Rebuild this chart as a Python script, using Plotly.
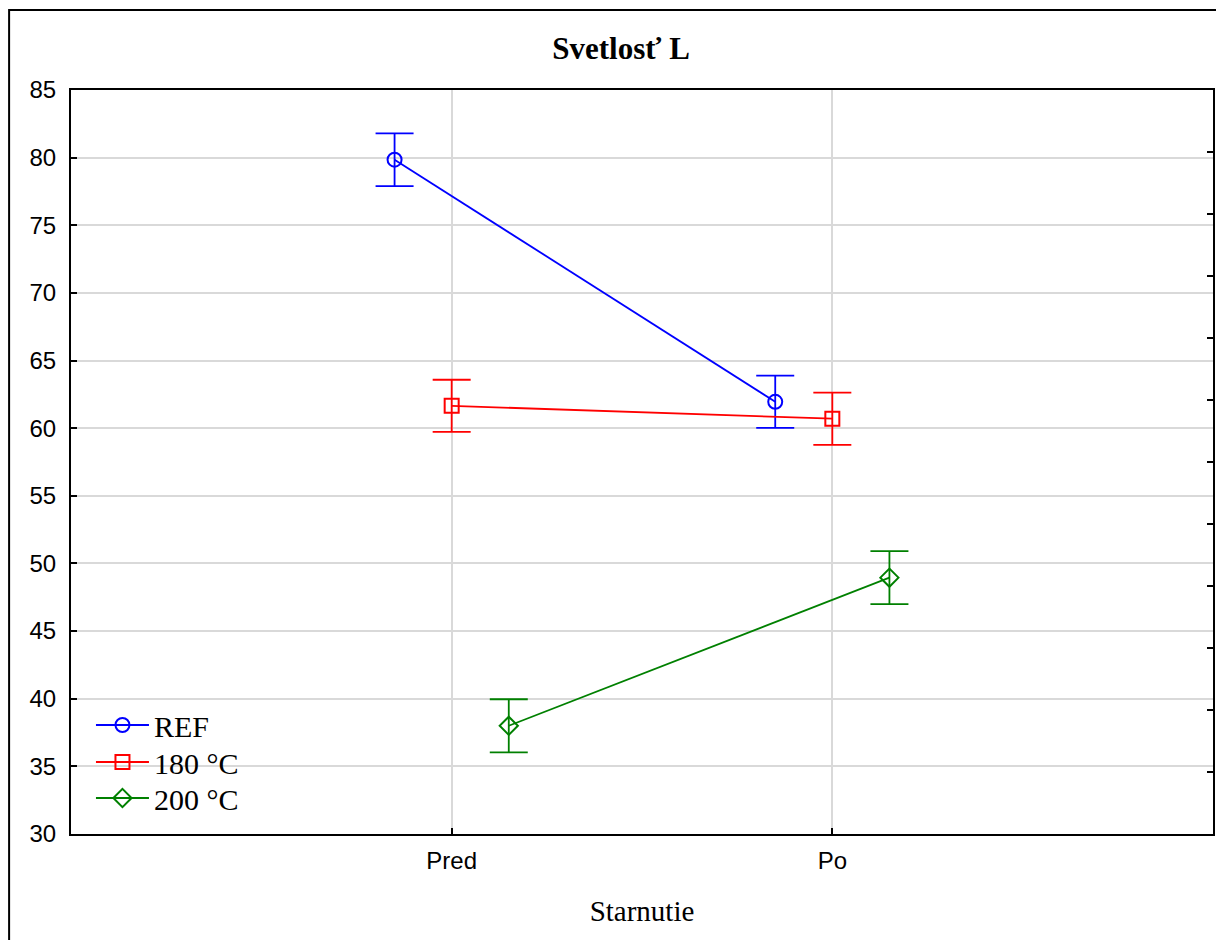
import plotly.graph_objects as go

# ---- data ----
categories = ["Pred", "Po"]
series_names = ["REF", "180 °C", "200 °C"]
ref_means = [79.85, 61.95]
ref_err = [1.95, 1.93]
t180_means = [61.65, 60.7]
t180_err = [1.93, 1.93]
t200_means = [38.0, 48.95]
t200_err = [1.96, 1.96]

# ---- styles ----
colors = ["#0000ff", "#ff0000", "#008000"]
symbols = ["circle-open", "square-open", "diamond-open"]
offsets = [-0.15, 0.0, 0.15]
cat_pos = [1, 2]
legend_ids = ["legend", "legend2", "legend3"]
legend_rows = [725, 762, 798]   # page-pixel centres of legend entries

means = [ref_means, t180_means, t200_means]
errs = [ref_err, t180_err, t200_err]

serif = "Liberation Serif, Times New Roman, serif"
sans = "Liberation Sans, Arial, sans-serif"

# page offset of the plot div (browser default body margin)
PAGE_OFF = 8
PLOT_L, PLOT_R, PLOT_T, PLOT_B = 71, 1215, 90, 834   # plot area in page pixels
PW = PLOT_R - PLOT_L
PH = PLOT_B - PLOT_T

def px(x):
    return (x - PLOT_L) / PW

def py(y):
    return (PLOT_B - y) / PH

fig = go.Figure()
for name, m, e, c, s, off, lg in zip(series_names, means, errs, colors, symbols, offsets, legend_ids):
    fig.add_trace(go.Scatter(
        x=[p + off for p in cat_pos], y=m, name=name, legend=lg,
        mode="lines+markers",
        line=dict(color=c, width=1.8),
        marker=dict(symbol=s, size=14, color=c, line=dict(color=c, width=2)),
        error_y=dict(type="data", array=e, visible=True, color=c, thickness=1.8, width=19),
    ))

# dummy trace for the right-hand axis
fig.add_trace(go.Scatter(x=[None], y=[None], yaxis="y2", showlegend=False, hoverinfo="skip"))

W = 1224 - PAGE_OFF
H = 940 - PAGE_OFF

legend_style = dict(xanchor="left", yanchor="middle", bgcolor="rgba(0,0,0,0)", borderwidth=0,
                    font=dict(family=serif, size=30, color="black"), itemwidth=53)
legends = {}
for lg, row in zip(legend_ids, legend_rows):
    legends[lg] = dict(x=px(91), y=py(row), **legend_style)

fig.update_layout(
    width=W, height=H,
    margin=dict(l=PLOT_L - PAGE_OFF, r=W - (PLOT_R - PAGE_OFF), t=PLOT_T - PAGE_OFF, b=H - (PLOT_B - PAGE_OFF)),
    paper_bgcolor="white", plot_bgcolor="white",
    title=dict(text="<b>Svetlosť L</b>", x=px(622), xref="paper", xanchor="center",
               y=1 - (48 - PAGE_OFF) / H, yanchor="middle",
               font=dict(family=serif, size=31, color="black")),
    xaxis=dict(range=[0, 3], tickvals=cat_pos, ticktext=categories,
               showgrid=True, gridcolor="#d9d9d9", gridwidth=1.5,
               showline=True, linecolor="black", linewidth=2, mirror=True,
               ticks="inside", ticklen=6, tickcolor="black", tickwidth=1.5,
               zeroline=False, ticklabelstandoff=4,
               tickfont=dict(family=sans, size=24, color="black"),
               title=dict(text="Starnutie", font=dict(family=serif, size=29, color="black"), standoff=28)),
    yaxis=dict(range=[30, 85], dtick=5, tick0=30,
               showgrid=True, gridcolor="#d9d9d9", gridwidth=1.5,
               showline=True, linecolor="black", linewidth=2, mirror=True,
               ticks="inside", ticklen=6, tickcolor="black", tickwidth=1.5,
               zeroline=False, ticklabelstandoff=8,
               tickfont=dict(family=sans, size=24, color="black")),
    yaxis2=dict(range=[0, 12], dtick=1, tick0=0, overlaying="y", side="right",
                showgrid=False, zeroline=False, showticklabels=False,
                showline=True, linecolor="black", linewidth=2,
                ticks="inside", ticklen=6, tickcolor="black", tickwidth=1.5),
    showlegend=True,
    shapes=[dict(type="rect", xref="paper", yref="paper",
                 x0=px(9), x1=px(1240),
                 y0=py(960), y1=py(10),
                 line=dict(color="black", width=2), fillcolor="rgba(0,0,0,0)", layer="below")],
    **legends,
)

fig.write_html("out.html")
